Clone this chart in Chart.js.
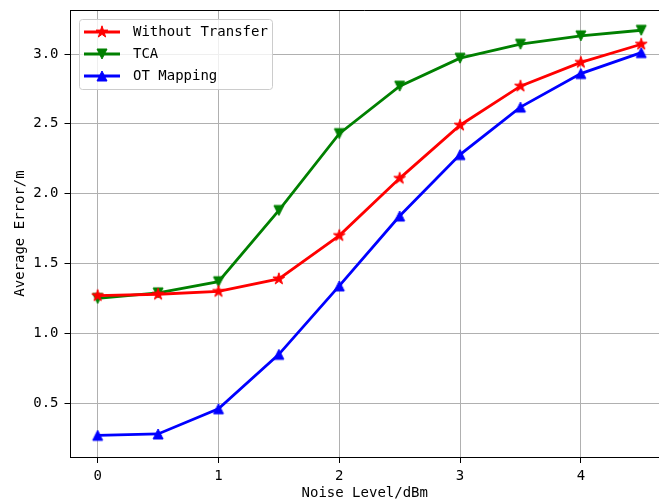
<!DOCTYPE html>
<html>
<head>
<meta charset="utf-8">
<script src="https://cdn.jsdelivr.net/npm/chart.js@4/dist/chart.umd.min.js"></script>
<style>
  html, body { margin: 0; padding: 0; background: #fff; overflow: hidden; }
  #wrap { position: absolute; left: 0; top: 0; width: 659px; height: 502px; }
</style>
</head>
<body>
<div id="wrap"><canvas id="chart" width="659" height="502"></canvas></div>
<script>
// Data
const noiseLevels = [0, 0.5, 1, 1.5, 2, 2.5, 3, 3.5, 4, 4.5];
const withoutTransfer = [1.27, 1.28, 1.30, 1.39, 1.70, 2.11, 2.49, 2.77, 2.94, 3.07];
const tca = [1.25, 1.29, 1.37, 1.88, 2.43, 2.77, 2.97, 3.07, 3.13, 3.17];
const otMapping = [0.27, 0.28, 0.46, 0.85, 1.34, 1.84, 2.28, 2.62, 2.86, 3.01];
const seriesNames = ["Without Transfer", "TCA", "OT Mapping"];
const xTicks = [0, 1, 2, 3, 4];
const yTicks = [0.5, 1.0, 1.5, 2.0, 2.5, 3.0];

const FONT = "'DejaVu Sans Mono', 'Liberation Mono', monospace";

// Matplotlib-like marker images
function makeMarker(kind, color) {
  const size = 16;
  const c = document.createElement("canvas");
  c.width = size;
  c.height = size;
  const g = c.getContext("2d");
  const h = size / 2;
  g.fillStyle = color;
  g.strokeStyle = color;
  g.lineWidth = 1;
  g.beginPath();
  if (kind === "star") {
    const R = 6.2, r = R * 0.382;
    for (let i = 0; i < 10; i++) {
      const rad = i % 2 ? r : R;
      const a = -Math.PI / 2 + i * Math.PI / 5;
      const px = h + rad * Math.cos(a), py = h + rad * Math.sin(a);
      if (i === 0) g.moveTo(px, py); else g.lineTo(px, py);
    }
  } else if (kind === "up") {
    const r = 5;
    g.moveTo(h, h - r);
    g.lineTo(h + r, h + r);
    g.lineTo(h - r, h + r);
  } else {
    const r = 5;
    g.moveTo(h, h + r);
    g.lineTo(h + r, h - r);
    g.lineTo(h - r, h - r);
  }
  g.closePath();
  g.fill();
  g.stroke();
  return c;
}

const colors = ["#ff0000", "#008000", "#0000ff"];
const markers = [makeMarker("star", colors[0]), makeMarker("down", colors[1]), makeMarker("up", colors[2])];
const seriesValues = [withoutTransfer, tca, otMapping];

function toPoints(values) {
  return noiseLevels.map((x, i) => ({ x: x, y: values[i] }));
}

const datasets = seriesNames.map((name, i) => ({
  label: name,
  data: toPoints(seriesValues[i]),
  borderColor: colors[i],
  backgroundColor: colors[i],
  borderWidth: 2.8,
  pointStyle: markers[i],
  pointRadius: 6,
  tension: 0,
  clip: false
}));

// Top spine (the right spine lies outside the cropped figure)
const framePlugin = {
  id: "frame",
  afterDatasetsDraw(chart) {
    const a = chart.chartArea;
    const ctx = chart.ctx;
    ctx.save();
    ctx.strokeStyle = "#000";
    ctx.lineWidth = 1;
    ctx.beginPath();
    ctx.moveTo(a.left, a.top + 0.5);
    ctx.lineTo(chart.width, a.top + 0.5);
    ctx.stroke();
    ctx.restore();
  }
};

// Legend drawn like matplotlib (line + marker)
const legendPlugin = {
  id: "mplLegend",
  afterDraw(chart) {
    const ctx = chart.ctx;
    ctx.save();
    ctx.beginPath();
    ctx.roundRect(79.5, 19.5, 193, 70, 3);
    ctx.fillStyle = "rgba(255,255,255,0.8)";
    ctx.fill();
    ctx.strokeStyle = "#cccccc";
    ctx.lineWidth = 1;
    ctx.stroke();
    const rows = [32, 54, 76];
    seriesNames.forEach((name, i) => {
      const y = rows[i];
      ctx.strokeStyle = colors[i];
      ctx.lineWidth = 2.8;
      ctx.beginPath();
      ctx.moveTo(84, y);
      ctx.lineTo(120, y);
      ctx.stroke();
      ctx.drawImage(markers[i], 102 - 8, y - 8);
      ctx.fillStyle = "#000";
      ctx.font = "14px " + FONT;
      ctx.textBaseline = "middle";
      ctx.textAlign = "left";
      ctx.fillText(name, 133, y);
    });
    ctx.restore();
  }
};

new Chart(document.getElementById("chart"), {
  type: "line",
  data: { datasets: datasets },
  options: {
    responsive: false,
    animation: false,
    layout: { autoPadding: false, padding: { top: 10, right: 0, left: 0, bottom: 0 } },
    plugins: {
      legend: { display: false },
      tooltip: { enabled: false }
    },
    scales: {
      x: {
        type: "linear",
        min: -0.225,
        max: 4.647,
        afterBuildTicks: (s) => { s.ticks = xTicks.map(v => ({ value: v })); },
        afterFit: (s) => {
          s.height = 45;
          s.paddingLeft = 0;
          s.paddingRight = 0;
        },
        grid: { color: "#b0b0b0", lineWidth: 1, tickColor: "#000", tickLength: 6 },
        border: { color: "#000", width: 1 },
        ticks: {
          color: "#000",
          padding: 5,
          maxRotation: 0,
          font: { family: FONT, size: 14 },
          callback: (v) => String(v)
        },
        title: {
          display: true,
          text: "Noise Level/dBm",
          color: "#000",
          font: { family: FONT, size: 14 },
          padding: { top: 0, bottom: 0 }
        }
      },
      y: {
        min: 0.115,
        max: 3.315,
        afterBuildTicks: (s) => { s.ticks = yTicks.map(v => ({ value: v })); },
        afterFit: (s) => {
          s.width = 70.5;
          s.paddingTop = 0;
          s.paddingBottom = 0;
        },
        grid: { color: "#b0b0b0", lineWidth: 1, tickColor: "#000", tickLength: 6 },
        border: { color: "#000", width: 1 },
        ticks: {
          color: "#000",
          padding: 6,
          font: { family: FONT, size: 14 },
          callback: (v) => v.toFixed(1)
        },
        title: {
          display: true,
          text: "Average Error/m",
          color: "#000",
          font: { family: FONT, size: 14 },
          padding: { top: 12, bottom: 0 }
        }
      }
    }
  },
  plugins: [framePlugin, legendPlugin]
});
</script>
</body>
</html>
